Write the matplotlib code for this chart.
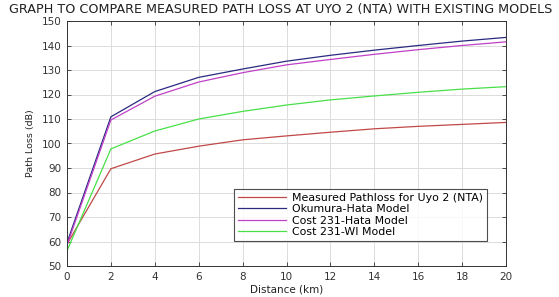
import matplotlib
matplotlib.use("Agg")
import matplotlib.pyplot as plt

distance = [0, 2, 4, 6, 8, 10, 12, 14, 16, 18, 20]
measured = [58.9, 89.7, 95.7, 98.9, 101.5, 103.1, 104.6, 106.0, 107.0, 107.8, 108.6]
okumura = [59.5, 110.9, 121.2, 127.0, 130.4, 133.6, 136.0, 138.1, 140.0, 141.8, 143.3]
cost_hata = [58.5, 109.6, 119.3, 125.1, 128.9, 132.1, 134.3, 136.4, 138.3, 140.0, 141.5]
cost_wi = [56.2, 97.8, 105.1, 110.0, 113.1, 115.7, 117.8, 119.4, 120.9, 122.2, 123.2]

labels = ["Measured Pathloss for Uyo 2 (NTA)", "Okumura-Hata Model",
          "Cost 231-Hata Model", "Cost 231-WI Model"]
colors = ["#c04848", "#2a2a80", "#c040c8", "#48e048"]

plt.rcParams['font.family'] = ['DejaVu Sans']

fig = plt.figure(figsize=(5.59, 2.97), dpi=100)
ax = fig.add_axes([67/559, 1 - 266/297, (506-67)/559, (266-21)/297])

for y, c, l in zip([measured, okumura, cost_hata, cost_wi], colors, labels):
    ax.plot(distance, y, color=c, lw=0.9, label=l)

ax.set_xlim(0, 20)
ax.set_ylim(50, 150)
ax.set_xticks(range(0, 21, 2))
ax.set_yticks(range(50, 151, 10))
ax.grid(True, color="#dcdcdc", lw=0.7)
ax.set_axisbelow(True)
ax.tick_params(direction="in", top=True, right=True, labelsize=7.5, colors="#333333",
               length=3, width=0.6, pad=4)
for s in ax.spines.values():
    s.set_color("#333333")
    s.set_linewidth(0.7)
ax.set_xlabel("Distance (km)", fontsize=7.5, labelpad=2, color="#222222")
ax.set_ylabel("Path Loss (dB)", fontsize=6.8, labelpad=5, color="#222222")

fig.text(281/559, 1 - 10/297, "GRAPH TO COMPARE MEASURED PATH LOSS AT UYO 2 (NTA) WITH EXISTING MODELS",
         ha="center", va="center", fontsize=9.2, color="#222222")

leg = ax.legend(loc="upper left", bbox_to_anchor=((234-67)/439, (266-189)/245),
                fontsize=7.9, frameon=True, fancybox=False, edgecolor="#222222",
                borderpad=0.32, labelspacing=0.14, handlelength=4.4, handletextpad=0.6,
                borderaxespad=0)
leg.get_frame().set_linewidth(0.8)

fig.savefig("out.png", dpi=100)
